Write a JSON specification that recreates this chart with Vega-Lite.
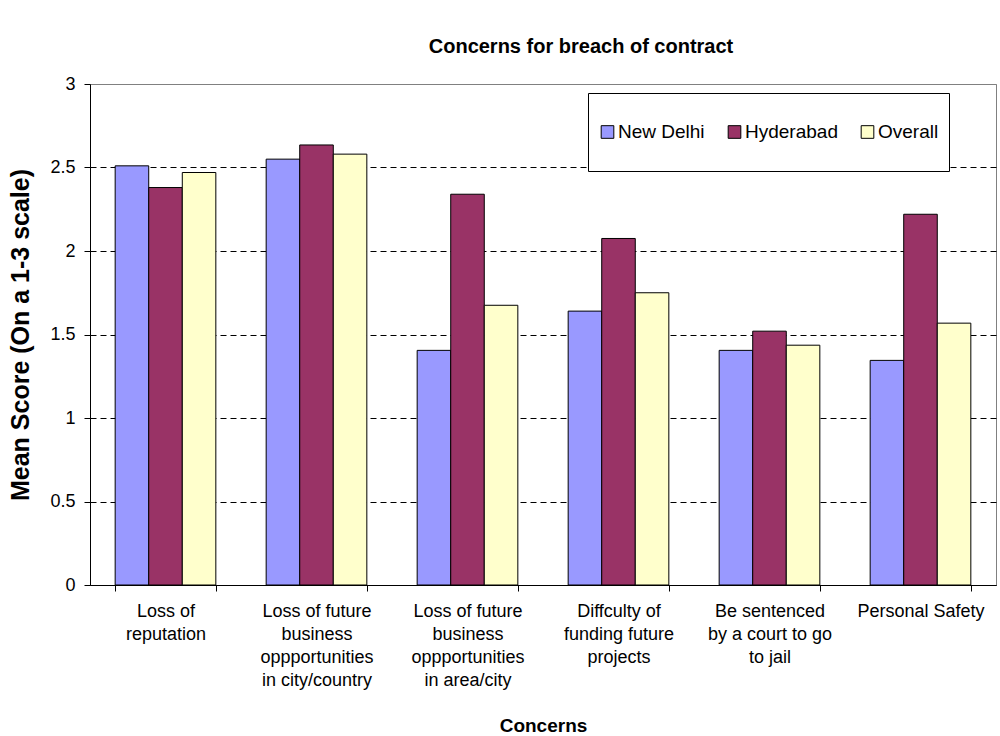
{
  "$schema": "https://vega.github.io/schema/vega-lite/v6.json",
  "width": 906,
  "height": 501,
  "autosize": {"type": "none"},
  "padding": {"left": 90, "top": 84, "right": 4, "bottom": 151},
  "background": "white",
  "title": {"text": "Concerns for breach of contract", "font": "Liberation Sans", "fontSize": 20, "fontWeight": "bold", "offset": 18, "anchor": "middle", "dx": 38, "color": "black"},
  "config": {"view": {"stroke": "#808080", "strokeWidth": 1}, "font": "Liberation Sans"},
  "data": {"values": [
    {"concern": "Loss of reputation", "city": "New Delhi", "score": 2.51},
    {"concern": "Loss of reputation", "city": "Hyderabad", "score": 2.38},
    {"concern": "Loss of reputation", "city": "Overall", "score": 2.47},
    {"concern": "Loss of future business oppportunities in city/country", "city": "New Delhi", "score": 2.55},
    {"concern": "Loss of future business oppportunities in city/country", "city": "Hyderabad", "score": 2.635},
    {"concern": "Loss of future business oppportunities in city/country", "city": "Overall", "score": 2.58},
    {"concern": "Loss of future business oppportunities in area/city", "city": "New Delhi", "score": 1.405},
    {"concern": "Loss of future business oppportunities in area/city", "city": "Hyderabad", "score": 2.34},
    {"concern": "Loss of future business oppportunities in area/city", "city": "Overall", "score": 1.675},
    {"concern": "Diffculty of funding future projects", "city": "New Delhi", "score": 1.64},
    {"concern": "Diffculty of funding future projects", "city": "Hyderabad", "score": 2.075},
    {"concern": "Diffculty of funding future projects", "city": "Overall", "score": 1.75},
    {"concern": "Be sentenced by a court to go to jail", "city": "New Delhi", "score": 1.405},
    {"concern": "Be sentenced by a court to go to jail", "city": "Hyderabad", "score": 1.52},
    {"concern": "Be sentenced by a court to go to jail", "city": "Overall", "score": 1.436},
    {"concern": "Personal Safety", "city": "New Delhi", "score": 1.345},
    {"concern": "Personal Safety", "city": "Hyderabad", "score": 2.22},
    {"concern": "Personal Safety", "city": "Overall", "score": 1.568}
  ]},
  "mark": {"type": "bar", "stroke": "black", "strokeWidth": 1},
  "encoding": {
    "x": {
      "field": "concern", "type": "nominal",
      "sort": ["Loss of reputation", "Loss of future business oppportunities in city/country", "Loss of future business oppportunities in area/city", "Diffculty of funding future projects", "Be sentenced by a court to go to jail", "Personal Safety"],
      "scale": {"paddingInner": 0.3333, "paddingOuter": 0.1667},
      "title": "Concerns",
      "axis": {
        "labelAngle": 0, "tickBand": "extent", "tickColor": "black", "tickSize": 6, "domainColor": "black",
        "labelFont": "Liberation Sans", "labelFontSize": 18, "labelColor": "black", "labelLineHeight": 23, "labelPadding": 11, "labelBaseline": "top", "labelLimit": 0,
        "labelExpr": "datum.value == 'Loss of reputation' ? ['Loss of', 'reputation'] : datum.value == 'Loss of future business oppportunities in city/country' ? ['Loss of future', 'business', 'oppportunities', 'in city/country'] : datum.value == 'Loss of future business oppportunities in area/city' ? ['Loss of future', 'business', 'oppportunities', 'in area/city'] : datum.value == 'Diffculty of funding future projects' ? ['Diffculty of', 'funding future', 'projects'] : datum.value == 'Be sentenced by a court to go to jail' ? ['Be sentenced', 'by a court to go', 'to jail'] : datum.value",
        "titleFont": "Liberation Sans", "titleFontSize": 19, "titleFontWeight": "bold", "titleColor": "black", "titlePadding": 27
      }
    },
    "xOffset": {"field": "city", "type": "nominal", "sort": ["New Delhi", "Hyderabad", "Overall"]},
    "y": {
      "field": "score", "type": "quantitative",
      "scale": {"domain": [0, 3], "nice": false},
      "title": "Mean Score (On a 1-3 scale)",
      "axis": {
        "values": [0, 0.5, 1, 1.5, 2, 2.5, 3], "format": ".1~f",
        "domainColor": "black", "tickColor": "black", "tickSize": 6,
        "labelFont": "Liberation Sans", "labelFontSize": 18, "labelColor": "black", "labelPadding": 9,
        "gridColor": {"condition": {"test": "datum.value === 3", "value": "#808080"}, "value": "black"},
        "gridDash": {"condition": {"test": "datum.value === 3", "value": []}, "value": [6, 4]},
        "gridWidth": 1,
        "titleFont": "Liberation Sans", "titleFontSize": 25, "titleFontWeight": "bold", "titleColor": "black", "titlePadding": 16
      }
    },
    "color": {
      "field": "city", "type": "nominal",
      "scale": {"domain": ["New Delhi", "Hyderabad", "Overall"], "range": ["#9999FF", "#993366", "#FFFFCC"]},
      "legend": {
        "orient": "none", "legendX": 498, "legendY": 9, "direction": "horizontal", "title": null,
        "symbolType": "square", "symbolSize": 160, "symbolStrokeColor": "black", "symbolStrokeWidth": 1, "symbolOpacity": 1,
        "labelFont": "Liberation Sans", "labelFontSize": 19, "labelColor": "black", "labelOffset": 1,
        "clipHeight": 58, "padding": 10, "strokeColor": "black", "fillColor": "white", "columnPadding": 20
      }
    }
  }
}
